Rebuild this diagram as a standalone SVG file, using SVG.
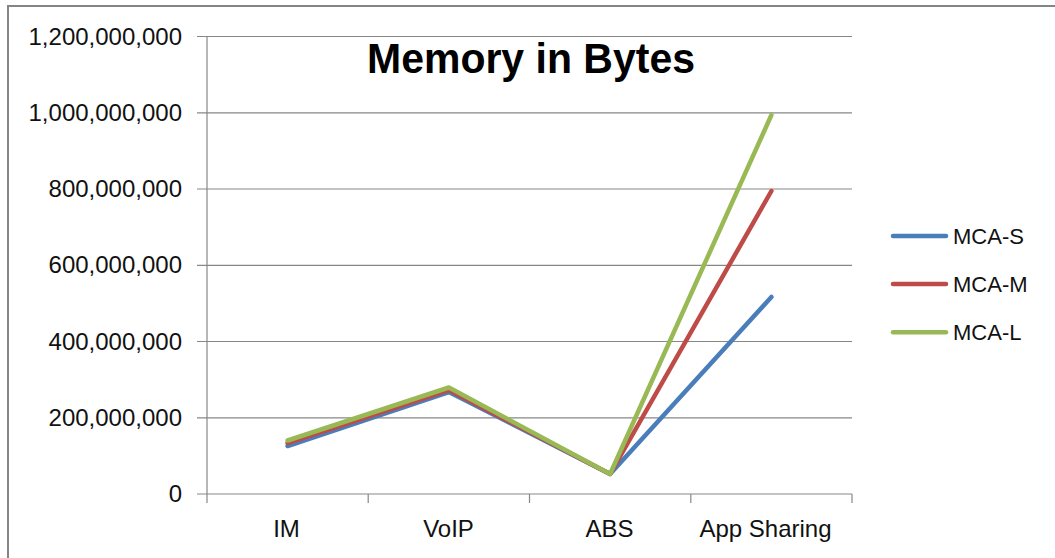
<svg xmlns="http://www.w3.org/2000/svg" width="1055" height="558" viewBox="0 0 1055 558">
  <style>
    .grid { stroke: #878787; stroke-width: 1.2; fill: none; }
    .axis { stroke: #878787; stroke-width: 1.2; fill: none; }
    .lbl { font-family: "Liberation Sans", Arial, sans-serif; font-size: 24px; fill: #111; }
    .ylbl { text-anchor: end; }
    .xlbl { text-anchor: middle; }
    .leg { font-family: "Liberation Sans", Arial, sans-serif; font-size: 22px; fill: #111; }
    .series { fill: none; stroke-width: 4.5; stroke-linejoin: round; stroke-linecap: round; }
    .s { stroke: #4A7EBB; }
    .m { stroke: #BE4B48; }
    .l { stroke: #98B954; }
  </style>
  <rect x="0" y="0" width="1055" height="558" fill="#ffffff"/>
  <rect id="chart-border" x="8" y="6" width="1100" height="600" fill="#ffffff" stroke="#858585" stroke-width="2"/>

  <g id="title">
    <text x="531" y="73" text-anchor="middle" font-family="'Liberation Sans', Arial, sans-serif" font-weight="bold" font-size="43" textLength="328" lengthAdjust="spacingAndGlyphs" fill="#000">Memory in Bytes</text>
  </g>

  <g id="gridlines">
    <line class="grid" x1="197" y1="36.5" x2="852" y2="36.5"/>
    <line class="grid" x1="197" y1="112.8" x2="852" y2="112.8"/>
    <line class="grid" x1="197" y1="189" x2="852" y2="189"/>
    <line class="grid" x1="197" y1="265.3" x2="852" y2="265.3"/>
    <line class="grid" x1="197" y1="341.5" x2="852" y2="341.5"/>
    <line class="grid" x1="197" y1="417.8" x2="852" y2="417.8"/>
  </g>

  <g id="axes">
    <line class="axis" x1="207" y1="36.5" x2="207" y2="503"/>
    <line class="axis" x1="197" y1="494" x2="852" y2="494"/>
    <line class="axis" x1="368.2" y1="494" x2="368.2" y2="503"/>
    <line class="axis" x1="529.5" y1="494" x2="529.5" y2="503"/>
    <line class="axis" x1="690.8" y1="494" x2="690.8" y2="503"/>
    <line class="axis" x1="852" y1="494" x2="852" y2="503"/>
  </g>

  <g id="y-labels">
    <text class="lbl ylbl" x="182" y="44.5">1,200,000,000</text>
    <text class="lbl ylbl" x="182" y="120.8">1,000,000,000</text>
    <text class="lbl ylbl" x="182" y="197">800,000,000</text>
    <text class="lbl ylbl" x="182" y="273.3">600,000,000</text>
    <text class="lbl ylbl" x="182" y="349.5">400,000,000</text>
    <text class="lbl ylbl" x="182" y="425.8">200,000,000</text>
    <text class="lbl ylbl" x="182" y="502">0</text>
  </g>

  <g id="x-labels">
    <text class="lbl xlbl" x="286.5" y="537">IM</text>
    <text class="lbl xlbl" x="448.5" y="537">VoIP</text>
    <text class="lbl xlbl" x="609.5" y="537">ABS</text>
    <text class="lbl xlbl" x="765.5" y="537">App Sharing</text>
  </g>

  <g id="connectors">
    <polyline id="series-mca-s" class="series s" points="287.6,446 448.9,392 610.1,474 771.4,297"/>
    <polyline id="series-mca-m" class="series m" points="287.6,443 448.9,390 610.1,474 771.4,191"/>
    <polyline id="series-mca-l" class="series l" points="287.6,440.5 448.9,387.5 610.1,474 771.4,115"/>
  </g>

  <g id="legend">
    <g id="legend-mca-s">
      <line class="series s" x1="893" y1="236" x2="946" y2="236" stroke-width="4"/>
      <text class="leg" x="953" y="243.5">MCA-S</text>
    </g>
    <g id="legend-mca-m">
      <line class="series m" x1="893" y1="284" x2="946" y2="284" stroke-width="4"/>
      <text class="leg" x="953" y="292">MCA-M</text>
    </g>
    <g id="legend-mca-l">
      <line class="series l" x1="893" y1="332.3" x2="946" y2="332.3" stroke-width="4"/>
      <text class="leg" x="953" y="340">MCA-L</text>
    </g>
  </g>
</svg>
